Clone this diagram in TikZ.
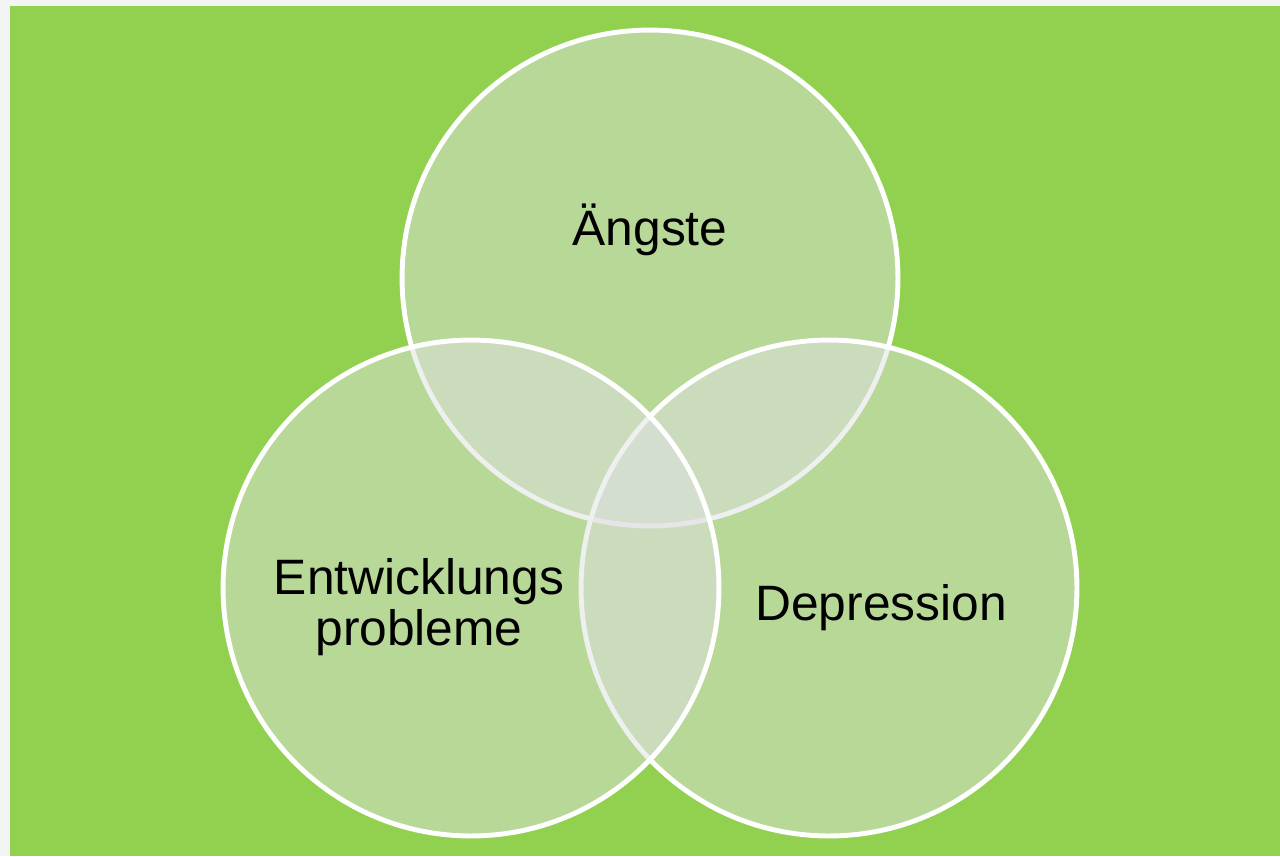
\documentclass[tikz,border=0pt]{standalone}
\usepackage{fontspec}
\setmainfont{Liberation Sans}
\definecolor{bggray}{RGB}{244,244,244}
\definecolor{leaf}{RGB}{146,208,80}
\definecolor{venn}{RGB}{222,224,224}
\begin{document}
\begin{tikzpicture}[x=0.02cm,y=-0.02cm,
  vennc/.style={circle,minimum size=9.92cm,inner sep=0pt,outer sep=0pt,
    fill=venn,fill opacity=0.5,draw=white,draw opacity=1,line width=2.8pt},
  lbl/.style={font=\fontsize{28.3}{28.5}\selectfont,text=black,align=center,inner sep=0pt}]
\useasboundingbox (0,0) rectangle (1280,856);
\fill[bggray] (0,0) rectangle (1280,856);
\fill[leaf] (10,6) rectangle (1280,856);
\node[vennc] (top) at (650,278) {};
\node[vennc] (right) at (829,588) {};
\node[vennc] (left) at (471,588) {};
\node[lbl,anchor=base] (angst) at (650,245) {Ängste};
\node[lbl,anchor=base] (depr) at (881,620) {Depression};
\node[lbl,anchor=base] (entw) at (419,645) {Entwicklungs\\probleme};
\end{tikzpicture}
\end{document}
